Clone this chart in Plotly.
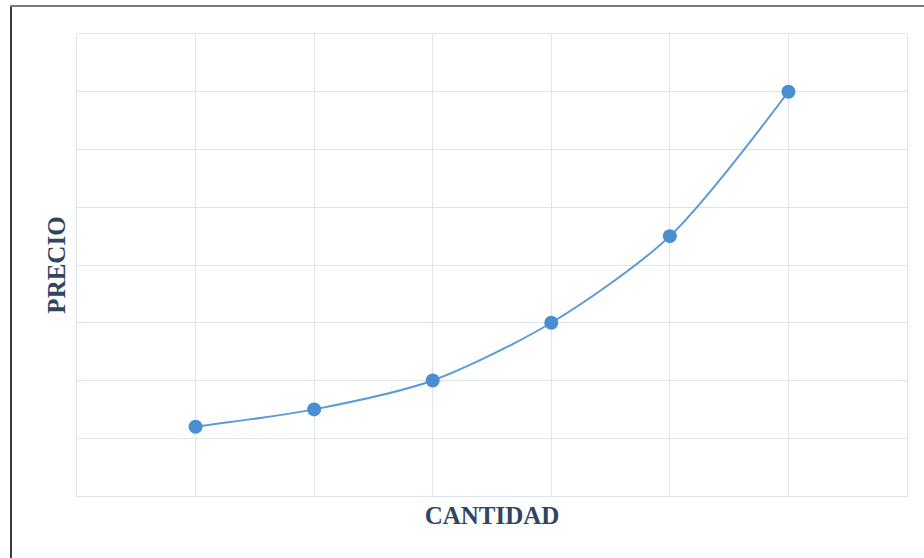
import plotly.graph_objects as go

# Quantity positions and price values
cantidad = [1, 2, 3, 4, 5, 6]
precio = [1.2, 1.5, 2.0, 3.0, 4.5, 7.0]

x_title = "CANTIDAD"
y_title = "PRECIO"

W, H = 924, 558
ML, MR, MT, MB = 77, 17, 34, 62
pw, ph = W - ML - MR, H - MT - MB

def px_x(p):
    return (p - ML) / pw

def px_y(p):
    return (H - MB - p) / ph

grid = "#dfe3ea"
title_font = dict(family="Liberation Serif", size=25, color="#2f4560", weight="bold")

fig = go.Figure(
    go.Scatter(
        x=cantidad,
        y=precio,
        mode="lines+markers",
        line=dict(color="#5b9bd5", width=2, shape="spline", smoothing=0.8),
        marker=dict(color="#4a8ed2", size=14),
        showlegend=False,
        hoverinfo="skip",
    )
)

fig.update_xaxes(
    range=[0, 7], dtick=1, showgrid=True, gridcolor=grid, gridwidth=1,
    showline=True, linecolor=grid, mirror=True, zeroline=False,
    showticklabels=False, ticks="",
    title=dict(text=x_title, font=title_font, standoff=10),
)
fig.update_yaxes(
    range=[0, 8], dtick=1, showgrid=True, gridcolor=grid, gridwidth=1,
    showline=True, linecolor=grid, mirror=True, zeroline=False,
    showticklabels=False, ticks="",
    title=dict(text=y_title, font=title_font, standoff=3),
)

# Frame around the chart (top and left edges)
fig.add_shape(type="line", xref="paper", yref="paper",
              x0=px_x(11), x1=px_x(11), y0=px_y(6), y1=px_y(H + 2),
              line=dict(color="#3a3a3a", width=2))
fig.add_shape(type="line", xref="paper", yref="paper",
              x0=px_x(10), x1=px_x(W + 2), y0=px_y(6), y1=px_y(6),
              line=dict(color="#7a7a7a", width=2))

fig.update_layout(
    width=W, height=H,
    margin=dict(l=ML, r=MR, t=MT, b=MB),
    paper_bgcolor="white", plot_bgcolor="white",
)

fig.write_html("out.html")
